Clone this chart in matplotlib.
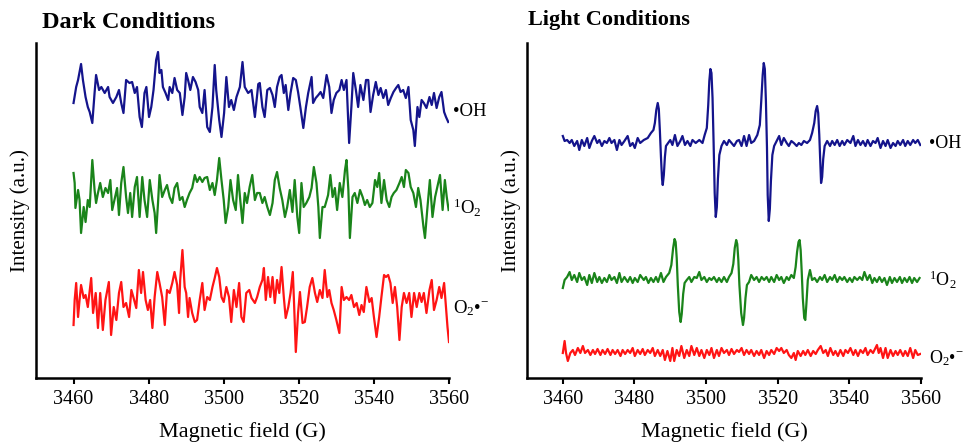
import matplotlib
matplotlib.use("Agg")
import matplotlib.pyplot as plt
import numpy as np

# EPR spectra, DMPO/TEMP spin trapping, dark vs light
# values: (field in G, intensity in a.u.)

dark_oh = [
    (3460.0, -15), (3460.7, 1), (3461.2, 8), (3462.0, 24), (3462.5, 8), (3463.2, -9),
    (3463.8, -19), (3464.3, -24), (3465.0, -35), (3465.6, -5), (3466.0, 13), (3466.8, -2),
    (3467.4, 1), (3468.3, -5), (3469.2, 1), (3469.6, -9), (3470.5, -15), (3471.4, -9),
    (3472.1, -2), (3472.7, -15), (3473.3, -25), (3474.0, 8), (3474.9, 5), (3475.6, 6),
    (3476.3, -5), (3476.9, 1), (3477.6, -29), (3478.2, -39), (3478.9, -5), (3479.4, 1),
    (3480.1, -29), (3480.7, -19), (3481.3, -2), (3482.0, 28), (3482.5, 36), (3482.9, 15),
    (3483.4, 18), (3483.8, 1), (3484.5, -5), (3485.2, -12), (3485.6, 1), (3486.3, -5),
    (3486.9, 10), (3487.6, -2), (3488.3, -5), (3489.0, -27), (3489.6, -9), (3490.0, 15),
    (3490.5, 8), (3491.1, -2), (3491.8, 11), (3492.5, 6), (3493.2, -2), (3493.6, -19),
    (3494.3, -25), (3494.9, -2), (3495.6, -39), (3496.3, -44), (3497.0, -19), (3497.6, 23),
    (3498.0, -2), (3498.8, -32), (3499.4, -49), (3500.1, -25), (3500.7, 11), (3501.4, -19),
    (3502.0, -12), (3502.7, -22), (3503.4, -9), (3504.3, 1), (3505.0, 26), (3505.6, 1),
    (3506.5, -5), (3507.4, -2), (3508.3, -29), (3509.2, 4), (3509.6, 5), (3510.3, -19),
    (3510.9, -29), (3511.6, -2), (3512.3, 0), (3513.0, -7), (3513.6, -19), (3514.2, 1),
    (3514.9, 11), (3515.4, 13), (3516.0, -5), (3516.5, 3), (3517.2, -22), (3517.8, -5),
    (3518.5, 10), (3519.2, 8), (3519.8, -4), (3520.4, -19), (3521.2, -40), (3521.9, -19),
    (3522.5, -5), (3523.4, 11), (3523.8, -15), (3524.5, -10), (3525.2, -7), (3525.8, -4),
    (3526.5, -10), (3527.4, 13), (3528.1, 1), (3528.7, -25), (3529.3, -12), (3530.0, -5),
    (3530.8, -2), (3531.4, 8), (3532.0, -2), (3532.7, 8), (3533.4, -55), (3534.0, -19),
    (3534.5, 15), (3535.2, -2), (3535.8, -19), (3536.4, 3), (3537.2, -12), (3537.9, 8),
    (3538.5, 8), (3539.1, -24), (3539.8, -7), (3540.5, 6), (3541.2, -7), (3541.8, 0),
    (3542.5, -10), (3543.2, -2), (3543.8, -17), (3544.5, -10), (3545.2, -4), (3545.9, 0),
    (3546.5, 3), (3547.1, -4), (3547.8, -2), (3548.5, -10), (3549.2, 1), (3549.8, -32),
    (3550.5, -42), (3550.9, -58), (3551.6, -19), (3552.1, -29), (3552.7, -12), (3553.3, -15),
    (3554.0, -20), (3554.8, -9), (3555.4, -17), (3556.0, -5), (3556.7, -20), (3557.4, -9),
    (3558.0, -4), (3558.7, -24), (3559.2, -29), (3559.8, -34),
]

dark_1o2 = [
    (3460.0, 22), (3460.3, 12), (3460.5, -13), (3461.2, 5), (3461.6, -5), (3462.0, -38),
    (3462.7, -12), (3463.2, -27), (3463.8, -5), (3464.3, -12), (3465.0, 35), (3465.6, 5),
    (3466.0, -8), (3466.5, 2), (3467.1, 12), (3467.8, -2), (3468.5, 7), (3469.2, 2),
    (3469.8, 15), (3470.3, -15), (3470.9, -5), (3471.6, 7), (3472.1, -20), (3472.7, 12),
    (3473.3, 28), (3474.0, -2), (3474.5, -18), (3475.1, 2), (3475.6, -22), (3476.3, 8),
    (3476.9, 18), (3477.6, -22), (3478.3, 18), (3478.9, -5), (3479.6, -22), (3480.3, 15),
    (3481.0, -5), (3481.6, -18), (3482.0, -38), (3482.5, -8), (3482.9, 20), (3483.6, -2),
    (3484.3, 5), (3484.9, 10), (3485.6, -2), (3486.3, -8), (3486.9, 7), (3487.6, 12),
    (3488.3, -5), (3489.0, -2), (3489.6, -12), (3490.2, -5), (3490.9, 2), (3491.6, 7),
    (3492.3, 20), (3492.9, 13), (3493.6, 18), (3494.3, 13), (3494.9, 17), (3495.6, 18),
    (3496.3, 5), (3497.0, 12), (3497.6, 0), (3498.2, 15), (3498.8, 37), (3499.4, 15),
    (3500.0, -5), (3500.5, -28), (3501.2, -12), (3501.8, 15), (3502.5, -5), (3503.2, -15),
    (3503.8, 20), (3504.4, -5), (3505.0, -28), (3505.6, 2), (3506.2, -8), (3506.9, 8),
    (3507.6, 20), (3508.3, -5), (3508.9, 2), (3509.6, 2), (3510.3, -8), (3510.9, -2),
    (3511.6, -12), (3512.3, -20), (3513.0, -8), (3513.6, 15), (3514.2, 23), (3514.9, 7),
    (3515.6, -5), (3516.3, -22), (3516.9, -12), (3517.6, 5), (3518.3, -17), (3518.9, 15),
    (3519.6, -22), (3520.1, -38), (3520.7, 12), (3521.3, -12), (3522.0, -8), (3522.8, -2),
    (3523.4, 7), (3524.0, 28), (3524.7, 12), (3525.2, -12), (3525.6, -43), (3526.3, -12),
    (3526.9, -12), (3527.8, 0), (3528.4, 20), (3529.0, -2), (3529.6, 7), (3530.2, -15),
    (3530.9, 12), (3531.6, -2), (3532.3, 25), (3532.7, 35), (3533.2, 5), (3533.6, -43),
    (3534.3, -2), (3534.9, 2), (3535.6, -8), (3536.3, 5), (3537.0, -2), (3537.6, -10),
    (3538.2, -5), (3538.9, -12), (3539.6, -8), (3540.3, 15), (3540.9, 8), (3541.4, 22),
    (3542.0, -8), (3542.7, 15), (3543.4, -5), (3544.1, -12), (3544.7, -2), (3545.3, 2),
    (3546.0, 5), (3546.8, 12), (3547.4, 18), (3548.0, 8), (3548.5, 25), (3549.2, 22),
    (3549.8, 8), (3550.5, 2), (3551.2, -12), (3551.8, 7), (3552.4, -5), (3553.2, -32),
    (3553.6, -43), (3554.2, -15), (3554.9, 15), (3555.6, -22), (3556.3, -2), (3556.9, 8),
    (3557.6, 20), (3558.3, -15), (3558.9, 15), (3559.4, -2), (3559.9, -15),
]

dark_o2 = [
    (3460.0, -30), (3460.3, -5), (3460.7, 12), (3461.2, -22), (3461.6, -5), (3462.0, 10),
    (3462.7, -3), (3463.2, 0), (3463.8, -12), (3464.7, 17), (3465.2, -18), (3465.9, 2),
    (3466.5, -33), (3467.1, 2), (3467.8, -35), (3468.5, -5), (3469.4, 13), (3470.0, -40),
    (3470.7, -12), (3471.4, -25), (3472.1, 2), (3472.7, 13), (3473.3, -12), (3474.0, -8),
    (3474.8, -22), (3475.4, 5), (3476.0, -3), (3476.7, -13), (3477.4, 25), (3478.0, 2),
    (3478.5, 23), (3479.2, -5), (3479.8, -15), (3480.4, -5), (3481.0, -33), (3481.6, -2),
    (3482.3, 23), (3482.9, 12), (3483.6, -2), (3484.3, -30), (3484.9, 5), (3485.6, 2),
    (3486.3, 12), (3486.9, 23), (3487.6, 10), (3488.1, -18), (3488.4, 15), (3489.0, 45),
    (3489.6, 8), (3490.0, 2), (3490.5, -22), (3490.9, -3), (3491.6, -18), (3492.3, -27),
    (3492.9, -25), (3493.6, -5), (3494.3, 12), (3494.9, -15), (3495.6, -2), (3496.3, -5),
    (3497.0, 8), (3497.6, 17), (3498.2, 27), (3498.8, 18), (3499.4, -2), (3500.0, -7),
    (3500.7, 8), (3501.4, -2), (3502.0, -27), (3502.7, 5), (3503.4, -12), (3504.1, 12),
    (3504.7, -22), (3505.3, -27), (3506.0, 2), (3506.8, 5), (3507.4, -3), (3508.3, -8),
    (3508.9, -2), (3509.6, 8), (3510.3, 15), (3510.7, 27), (3511.2, -5), (3511.8, 18),
    (3512.4, -2), (3513.0, 18), (3513.6, -8), (3514.2, 15), (3514.8, 2), (3515.4, 28),
    (3516.0, -2), (3516.5, -23), (3517.2, -12), (3517.8, 2), (3518.4, 23), (3518.7, -5),
    (3519.2, -57), (3519.8, -18), (3520.3, 3), (3521.0, -28), (3521.6, -27), (3522.2, -12),
    (3522.9, 8), (3523.6, 17), (3524.3, 2), (3524.9, -7), (3525.6, 5), (3526.3, -3),
    (3526.9, 25), (3527.6, -2), (3528.1, 5), (3528.7, -8), (3529.3, -15), (3530.0, -25),
    (3530.8, -38), (3531.4, 8), (3532.0, -5), (3532.7, -2), (3533.4, -5), (3534.0, 0),
    (3534.7, -12), (3535.4, -8), (3536.1, -20), (3536.7, -10), (3537.3, -17), (3538.0, 8),
    (3538.8, -7), (3539.4, -3), (3540.0, -22), (3540.7, -42), (3541.4, -22), (3542.0, -2),
    (3542.7, 20), (3543.2, 18), (3543.8, 20), (3544.4, 12), (3545.0, -8), (3545.6, 8),
    (3546.2, -12), (3546.8, -45), (3547.4, -12), (3548.0, 2), (3548.7, -8), (3549.4, 2),
    (3550.0, -22), (3550.7, 2), (3551.4, -12), (3552.1, 2), (3552.7, -7), (3553.3, 2),
    (3554.0, -18), (3554.8, 5), (3555.4, 15), (3556.0, -15), (3556.7, -5), (3557.4, 8),
    (3558.0, -3), (3558.7, 12), (3559.2, -12), (3559.6, -32), (3560.0, -47),
]

light_oh = [
    (3460.0, 7), (3460.5, 2), (3461.2, 3), (3461.9, 0), (3462.5, 3), (3463.2, -3),
    (3464.0, 2), (3464.6, -7), (3465.3, 3), (3466.0, -3), (3466.8, 5), (3467.4, -5),
    (3468.1, 2), (3468.8, 7), (3469.6, 0), (3470.2, 3), (3470.9, -3), (3471.6, 2),
    (3472.3, 0), (3473.0, 5), (3473.6, 0), (3474.4, 3), (3475.1, -7), (3475.8, 3),
    (3476.4, -2), (3477.2, 2), (3478.1, 7), (3478.8, -3), (3479.5, 0), (3480.1, -5),
    (3480.9, 5), (3481.6, 0), (3482.6, 3), (3483.7, 5), (3484.6, 10), (3485.3, 13),
    (3485.7, 20), (3486.1, 33), (3486.5, 40), (3486.8, 34), (3487.1, 12), (3487.4, -14),
    (3487.7, -36), (3487.9, -42), (3488.2, -32), (3488.5, -14), (3488.8, -3), (3489.4, 0),
    (3490.0, 3), (3490.6, -2), (3491.3, 8), (3492.0, -3), (3492.8, 2), (3493.4, 7),
    (3494.1, -2), (3494.8, 2), (3495.6, -3), (3496.2, 3), (3497.1, 0), (3498.1, 3),
    (3499.0, 0), (3499.6, 8), (3500.2, 15), (3500.6, 38), (3500.9, 62), (3501.2, 74),
    (3501.5, 70), (3501.8, 45), (3502.1, 0), (3502.4, -50), (3502.7, -74), (3503.0, -64),
    (3503.3, -36), (3503.7, -12), (3504.3, -3), (3505.0, 2), (3505.8, -2), (3506.4, 3),
    (3507.1, 0), (3507.8, -3), (3508.6, 2), (3509.2, 3), (3509.9, -3), (3510.6, 7),
    (3511.3, -3), (3512.0, 8), (3512.6, 0), (3513.4, 2), (3514.3, 8), (3515.0, 18),
    (3515.4, 42), (3515.8, 68), (3516.1, 80), (3516.4, 74), (3516.7, 42), (3517.0, -5),
    (3517.2, -52), (3517.5, -78), (3517.8, -66), (3518.1, -38), (3518.5, -12), (3519.0, -3),
    (3519.7, 2), (3520.4, 7), (3521.0, -2), (3521.7, 5), (3522.5, 0), (3523.1, -3),
    (3523.8, 2), (3524.5, 0), (3525.3, -3), (3525.9, 0), (3526.6, -2), (3527.3, 2),
    (3528.2, 0), (3529.0, 3), (3529.6, 10), (3530.2, 20), (3530.6, 32), (3531.0, 37),
    (3531.3, 30), (3531.6, 8), (3531.9, -22), (3532.1, -40), (3532.4, -34), (3532.7, -16),
    (3533.1, -3), (3533.8, 2), (3534.6, -3), (3535.2, 2), (3535.9, -2), (3536.6, 3),
    (3537.3, -3), (3538.0, 2), (3538.6, -2), (3539.4, 3), (3540.3, 0), (3541.1, 7),
    (3541.7, -3), (3542.4, 3), (3543.1, -2), (3543.8, 2), (3544.5, -3), (3545.1, 3),
    (3545.9, -3), (3546.6, 2), (3547.3, 0), (3547.9, 5), (3548.7, -5), (3549.4, 2),
    (3550.1, -3), (3550.7, 3), (3551.5, -5), (3552.2, 0), (3552.9, -3), (3553.5, 2),
    (3554.2, -2), (3555.0, 3), (3555.6, -3), (3556.3, 2), (3557.0, -2), (3557.8, 3),
    (3558.4, 0), (3559.1, 3), (3559.8, -2),
]

light_1o2 = [
    (3460.0, -8), (3460.5, 0), (3461.2, 3), (3461.9, 8), (3462.5, 0), (3463.2, 5),
    (3464.0, -2), (3464.6, 7), (3465.3, 0), (3466.0, 3), (3466.8, -5), (3467.4, 5),
    (3468.1, -3), (3468.8, 7), (3469.6, -2), (3470.2, 3), (3470.9, -3), (3471.6, 2),
    (3472.3, -2), (3473.0, 5), (3473.6, 0), (3474.4, 3), (3475.1, -3), (3475.8, 7),
    (3476.4, -2), (3477.2, 3), (3478.1, -2), (3478.8, 3), (3479.5, -3), (3480.1, 2),
    (3480.9, -2), (3481.6, 5), (3482.6, 0), (3483.2, 3), (3483.9, -3), (3484.6, 2),
    (3485.3, -2), (3486.0, 3), (3486.6, -2), (3487.4, 7), (3488.1, -2), (3488.8, 3),
    (3489.7, 7), (3490.3, 15), (3490.8, 32), (3491.2, 41), (3491.5, 38), (3491.8, 22),
    (3492.1, -5), (3492.5, -32), (3492.9, -42), (3493.2, -34), (3493.6, -14), (3494.0, -3),
    (3494.6, 0), (3495.3, 3), (3495.9, -2), (3496.7, 3), (3497.4, 2), (3498.1, 8),
    (3498.7, 0), (3499.5, 3), (3500.2, -2), (3500.9, 2), (3501.5, 0), (3502.2, 3),
    (3503.0, -2), (3503.6, 2), (3504.3, -2), (3505.0, 3), (3505.8, -2), (3506.4, 3),
    (3507.1, 7), (3507.6, 16), (3508.0, 32), (3508.4, 40), (3508.7, 36), (3509.0, 20),
    (3509.3, -5), (3509.8, -33), (3510.3, -45), (3510.6, -38), (3511.0, -18), (3511.4, -5),
    (3512.0, -2), (3512.6, 5), (3513.4, 0), (3514.1, 3), (3514.8, -2), (3515.5, 3),
    (3516.2, 0), (3516.9, 3), (3517.6, -2), (3518.2, 3), (3519.0, -2), (3519.7, 5),
    (3520.4, 0), (3521.0, 3), (3521.7, -3), (3522.5, 3), (3523.1, 0), (3523.8, 5),
    (3524.5, 2), (3525.0, 13), (3525.4, 28), (3525.8, 38), (3526.1, 40), (3526.4, 30),
    (3526.7, 8), (3527.0, -18), (3527.4, -38), (3527.7, -40), (3528.0, -24), (3528.4, 0),
    (3529.0, 10), (3529.6, 0), (3530.3, 2), (3531.0, -2), (3531.8, 3), (3532.4, 0),
    (3533.1, 5), (3533.8, -2), (3534.6, 3), (3535.2, 0), (3535.9, 5), (3536.6, -2),
    (3537.3, 3), (3538.0, 0), (3538.6, 3), (3539.4, -2), (3540.1, 2), (3540.8, -2),
    (3541.4, 3), (3542.2, 0), (3542.9, 3), (3543.6, 0), (3544.2, 8), (3545.0, 0),
    (3545.7, 5), (3546.4, -3), (3547.0, 2), (3547.7, -2), (3548.4, 3), (3549.1, -2),
    (3549.8, 2), (3550.5, -5), (3551.3, 3), (3551.9, -3), (3552.6, 2), (3553.3, -2),
    (3554.1, 3), (3554.7, -3), (3555.4, 2), (3556.1, -2), (3556.8, 3), (3557.5, -3),
    (3558.1, 2), (3558.9, -2), (3559.6, 2),
]

light_o2 = [
    (3460.0, 0), (3460.5, 12), (3460.9, 0), (3461.4, -8), (3462.1, 0), (3462.8, 3),
    (3463.4, -2), (3464.2, 5), (3464.9, 0), (3465.6, 7), (3466.2, 0), (3467.0, 3),
    (3467.7, -2), (3468.4, 3), (3469.0, -1), (3469.7, 4), (3470.5, -2), (3471.1, 3),
    (3471.8, -1), (3472.5, 4), (3473.3, -2), (3473.9, 3), (3474.6, -1), (3475.3, 3),
    (3476.1, -3), (3476.7, 3), (3477.4, -1), (3478.1, 3), (3478.8, 0), (3479.5, 5),
    (3480.1, -3), (3480.9, 3), (3481.6, -1), (3482.3, 4), (3482.9, -2), (3483.7, 3),
    (3484.4, 0), (3485.1, 5), (3485.7, -3), (3486.5, 3), (3487.2, -3), (3487.9, 3),
    (3488.5, -7), (3489.2, 2), (3490.0, -8), (3490.6, 5), (3491.1, -8), (3491.8, 3),
    (3492.5, -3), (3493.1, 7), (3493.9, -5), (3494.6, 3), (3495.3, -3), (3495.9, 7),
    (3496.7, -2), (3497.4, 5), (3498.1, -3), (3498.7, 3), (3499.5, -5), (3500.2, 3),
    (3500.9, -2), (3501.5, 5), (3502.2, -5), (3503.0, 3), (3503.6, -3), (3504.3, 5),
    (3505.0, 0), (3505.8, 3), (3506.4, -2), (3507.1, 4), (3507.8, -1), (3508.6, 3),
    (3509.2, 1), (3509.9, 5), (3510.6, -2), (3511.3, 3), (3512.0, -1), (3512.6, 3),
    (3513.4, -3), (3514.1, 2), (3514.8, -2), (3515.4, 3), (3516.2, -5), (3516.9, 2),
    (3517.6, -2), (3518.2, 3), (3519.0, -1), (3519.7, 5), (3520.4, 2), (3521.0, 5),
    (3521.7, 0), (3522.5, 3), (3523.1, -2), (3523.8, -5), (3524.5, 0), (3525.0, -7),
    (3525.6, 2), (3526.4, -3), (3527.1, 2), (3527.7, -2), (3528.4, 3), (3529.2, -3),
    (3529.9, 2), (3530.6, -1), (3531.2, 3), (3532.0, 7), (3532.7, 0), (3533.4, 3),
    (3534.0, -3), (3534.7, 5), (3535.5, -2), (3536.1, 2), (3536.8, -3), (3537.5, 3),
    (3538.3, -3), (3538.9, 3), (3539.6, 0), (3540.3, 5), (3541.1, -2), (3541.7, 3),
    (3542.4, -3), (3543.1, 3), (3543.8, 0), (3544.5, 5), (3545.1, -2), (3545.9, 3),
    (3546.6, 0), (3547.3, 5), (3547.7, 8), (3548.2, 0), (3548.7, 5), (3549.4, -5),
    (3550.1, 5), (3550.7, -5), (3551.5, 3), (3552.2, -3), (3552.9, 2), (3553.5, -2),
    (3554.2, 3), (3555.0, -3), (3555.6, 2), (3556.3, -3), (3557.0, 5), (3557.8, -5),
    (3558.4, 3), (3559.1, -2), (3559.8, -1),
]

species = ["•OH", r"$^{1}\mathrm{O}_{2}$", r"$\mathrm{O}_{2}$•$^{-}$"]
x_ticks = [3460, 3480, 3500, 3520, 3540, 3560]

# vertical stacking of the three traces in each panel
dark_offsets = [290, 183, 83]
light_offsets = [235, 98, 25]
dark_label_y = [266, 170, 70]
light_label_y = [235, 98, 20]

colors = ["#14148c", "#1a841a", "#ff1414"]

plt.rcParams["font.family"] = ["Liberation Serif", "DejaVu Serif"]
plt.rcParams["mathtext.fontset"] = "custom"
plt.rcParams["mathtext.rm"] = "Liberation Serif"
plt.rcParams["mathtext.it"] = "Liberation Serif:italic"
plt.rcParams["mathtext.bf"] = "Liberation Serif:bold"

fig = plt.figure(figsize=(9.65, 4.42), dpi=100)
ax_dark = fig.add_axes([36 / 965, 64 / 442, 413 / 965, 335 / 442])
ax_light = fig.add_axes([527 / 965, 64 / 442, 394 / 965, 335 / 442])


def draw_panel(ax, series, offsets, label_x, label_y, label_size):
    for data, off, color in zip(series, offsets, colors):
        arr = np.array(data, dtype=float)
        ax.plot(arr[:, 0], arr[:, 1] + off, color=color, lw=1.6)
    for name, ly in zip(species, label_y):
        ax.text(label_x, ly, name, fontsize=label_size, va="center", ha="left", clip_on=False)
    ax.set_xlim(3450, 3560)
    ax.set_ylim(0, 335)
    ax.set_xticks(x_ticks)
    ax.set_yticks([])
    ax.spines["top"].set_visible(False)
    ax.spines["right"].set_visible(False)
    ax.spines["left"].set_linewidth(1.8)
    ax.spines["bottom"].set_linewidth(1.8)
    ax.tick_params(axis="x", direction="out", length=4, width=1.5, labelsize=14.5, pad=5)
    ax.set_xlabel("Magnetic field (G)", fontsize=16, labelpad=9)
    ax.set_ylabel("Intensity (a.u.)", fontsize=15, labelpad=4)


draw_panel(ax_dark, [dark_oh, dark_1o2, dark_o2], dark_offsets, 3561.0, dark_label_y, 13.5)
draw_panel(ax_light, [light_oh, light_1o2, light_o2], light_offsets, 3562.3, light_label_y, 13)

fig.text(42 / 965, 1 - 22 / 442, "Dark Conditions", fontsize=17.5, fontweight="bold", va="center")
fig.text(528 / 965, 1 - 20 / 442, "Light Conditions", fontsize=16, fontweight="bold", va="center")

fig.savefig("out.png", dpi=100)
